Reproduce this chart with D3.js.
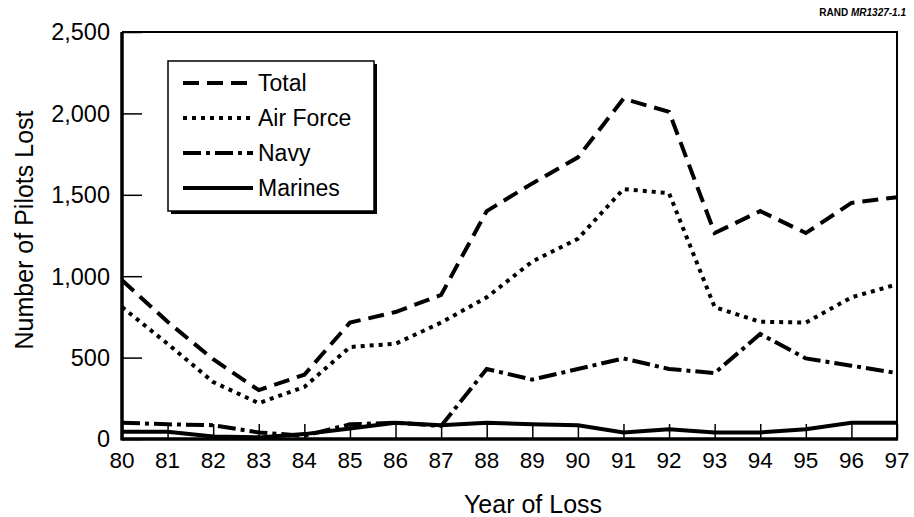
<!DOCTYPE html>
<html>
<head>
<meta charset="utf-8">
<script src="https://cdn.jsdelivr.net/npm/d3@7"></script>
<style>
  body { margin: 0; background: #fff; }
  svg { display: block; font-family: "Liberation Sans", Arial, sans-serif; }
</style>
</head>
<body>
<svg id="chart" width="914" height="517"></svg>
<script>
const years = [80, 81, 82, 83, 84, 85, 86, 87, 88, 89, 90, 91, 92, 93, 94, 95, 96, 97];
const total    = [975, 720, 490, 300, 395, 715, 780, 885, 1400, 1570, 1730, 2090, 2010, 1265, 1400, 1265, 1450, 1485];
const airForce = [810, 585, 350, 220, 320, 565, 585, 715, 870, 1090, 1230, 1535, 1510, 810, 720, 715, 870, 950];
const navy     = [100, 90, 85, 40, 20, 90, 100, 80, 430, 365, 430, 495, 430, 405, 645, 495, 450, 405];
const marines  = [45, 45, 15, 10, 30, 65, 100, 85, 100, 90, 85, 40, 60, 40, 40, 60, 100, 100];
const yTicks = [0, 500, 1000, 1500, 2000, 2500];

const series = [
  { name: "Total", values: total, dash: "16,8" },
  { name: "Air Force", values: airForce, dash: "4,5" },
  { name: "Navy", values: navy, dash: "18,5,4,5" },
  { name: "Marines", values: marines, dash: null }
];

const svg = d3.select("#chart");
const margin = { top: 32, right: 17, bottom: 78, left: 122 };
const width = 914, height = 517;
const innerWidth = width - margin.left - margin.right;
const innerHeight = height - margin.top - margin.bottom;

const x = d3.scaleLinear().domain([80, 97]).range([0, innerWidth]);
const y = d3.scaleLinear().domain([0, 2500]).range([innerHeight, 0]);

const g = svg.append("g").attr("transform", `translate(${margin.left},${margin.top})`);

// frame (top and right)
g.append("path")
  .attr("d", `M0,0H${innerWidth}V${innerHeight}`)
  .attr("fill", "none").attr("stroke", "#000").attr("stroke-width", 2);

// y axis: ticks point inward
const yAxis = g.append("g")
  .call(d3.axisRight(y).tickValues(yTicks).tickSize(20).tickFormat(""));
yAxis.select(".domain").remove();
yAxis.selectAll("line").attr("stroke-width", 1.5);
g.selectAll(".ylab").data(yTicks).join("text")
  .attr("class", "ylab")
  .attr("x", -12).attr("y", (d) => y(d)).attr("dy", "0.36em")
  .attr("text-anchor", "end").attr("font-size", 23.5)
  .text(d3.format(","));

// x axis
const xAxis = g.append("g")
  .attr("transform", `translate(0,${innerHeight})`)
  .call(d3.axisTop(x).tickValues(years).tickSize(15).tickFormat(""));
xAxis.select(".domain").remove();
xAxis.selectAll("line").attr("stroke-width", 1.5);
g.selectAll(".xlab").data(years).join("text")
  .attr("class", "xlab")
  .attr("x", (d) => x(d)).attr("y", innerHeight + 29)
  .attr("text-anchor", "middle").attr("font-size", 22.5)
  .text((d) => d);

// data lines
const line = d3.line().x((d, i) => x(years[i])).y((d) => y(d));
g.selectAll(".series").data(series).join("path")
  .attr("class", "series")
  .attr("d", (d) => line(d.values))
  .attr("fill", "none").attr("stroke", "#000").attr("stroke-width", 4)
  .attr("stroke-dasharray", (d) => d.dash);

// thick axis lines
g.append("line").attr("x1", 0).attr("x2", 0).attr("y1", 0).attr("y2", innerHeight + 1.5)
  .attr("stroke", "#000").attr("stroke-width", 3.5);
g.append("line").attr("x1", 0).attr("x2", innerWidth + 1).attr("y1", innerHeight).attr("y2", innerHeight)
  .attr("stroke", "#000").attr("stroke-width", 3.5);

// legend with drop shadow
const lg = g.append("g").attr("transform", "translate(46,29)");
lg.append("rect").attr("x", 3).attr("y", 3).attr("width", 206).attr("height", 150).attr("fill", "#000");
lg.append("rect").attr("x", 0).attr("y", 0).attr("width", 206).attr("height", 150)
  .attr("fill", "#fff").attr("stroke", "#000").attr("stroke-width", 1.5);
const item = lg.selectAll(".item").data(series).join("g")
  .attr("class", "item")
  .attr("transform", (d, i) => `translate(0,${22 + i * 35})`);
item.append("line").attr("x1", 15).attr("x2", 85)
  .attr("stroke", "#000").attr("stroke-width", 4)
  .attr("stroke-dasharray", (d) => d.dash);
item.append("text").attr("x", 90).attr("dy", "0.36em").attr("font-size", 23)
  .text((d) => d.name);

// axis titles
svg.append("text")
  .attr("transform", `translate(33,230) rotate(-90)`)
  .attr("text-anchor", "middle").attr("font-size", 25)
  .text("Number of Pilots Lost");
svg.append("text")
  .attr("x", 533).attr("y", 513)
  .attr("text-anchor", "middle").attr("font-size", 25)
  .text("Year of Loss");

// source label
const src = svg.append("text").attr("x", 906).attr("y", 16)
  .attr("text-anchor", "end").attr("font-size", 10).attr("font-weight", "bold");
src.append("tspan").text("RAND ");
src.append("tspan").attr("font-style", "italic").text("MR1327-1.1");
</script>
</body>
</html>
